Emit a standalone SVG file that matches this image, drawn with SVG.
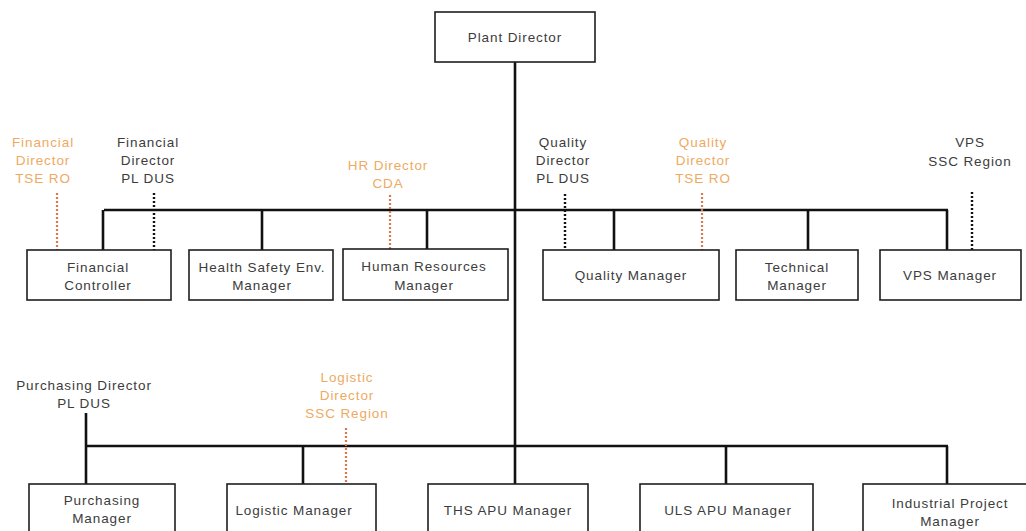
<svg xmlns="http://www.w3.org/2000/svg" width="1026" height="531" viewBox="0 0 1026 531">
  <style>
    .box { fill: #ffffff; stroke: #1e1e1e; stroke-width: 1.6; }
    .t { font-family: "Liberation Sans", Arial, sans-serif; font-size: 13.5px; letter-spacing: 0.9px; fill: #3c3c3c; text-anchor: middle; }
    .o { fill: #eeaa62; }
    .line { stroke: #111111; stroke-width: 2.6; fill: none; }
    .dotk { stroke: #111111; stroke-width: 2.4; stroke-dasharray: 2 2; fill: none; }
    .doto { stroke: #d9784c; stroke-width: 2.2; stroke-dasharray: 2 2; fill: none; }
  </style>
  <rect width="1026" height="531" fill="#ffffff"/>

  <!-- reporting lines -->
  <g id="connectors">
    <line class="line" x1="515" y1="62" x2="515" y2="484"/>
    <line class="line" x1="104" y1="210" x2="948" y2="210"/>
    <line class="line" x1="103" y1="210" x2="103" y2="250"/>
    <line class="line" x1="262" y1="210" x2="262" y2="250"/>
    <line class="line" x1="427" y1="210" x2="427" y2="250"/>
    <line class="line" x1="614" y1="210" x2="614" y2="250"/>
    <line class="line" x1="808" y1="210" x2="808" y2="250"/>
    <line class="line" x1="947" y1="210" x2="947" y2="250"/>
    <line class="line" x1="86" y1="446" x2="948" y2="446"/>
    <line class="line" x1="86" y1="413" x2="86" y2="484"/>
    <line class="line" x1="303" y1="446" x2="303" y2="484"/>
    <line class="line" x1="726" y1="446" x2="726" y2="484"/>
    <line class="line" x1="947" y1="446" x2="947" y2="484"/>
    <!-- dotted functional lines -->
    <line class="doto" x1="57" y1="193" x2="57" y2="250"/>
    <line class="dotk" x1="154" y1="193" x2="154" y2="250"/>
    <line class="doto" x1="390" y1="195" x2="390" y2="250"/>
    <line class="dotk" x1="565" y1="194" x2="565" y2="250"/>
    <line class="doto" x1="702" y1="193" x2="702" y2="250"/>
    <line class="dotk" x1="972" y1="192" x2="972" y2="250"/>
    <line class="doto" x1="346" y1="428" x2="346" y2="484"/>
  </g>

  <g id="plant-director">
    <rect class="box" x="435" y="12" width="160" height="50"/>
    <text class="t" x="515" y="42">Plant Director</text>
  </g>

  <!-- directors with functional lines -->
  <g id="fin-dir-tse">
    <text class="t o" x="43" y="147">Financial</text>
    <text class="t o" x="43" y="165">Director</text>
    <text class="t o" x="43" y="183">TSE RO</text>
  </g>
  <g id="fin-dir-pl">
    <text class="t" x="148" y="147">Financial</text>
    <text class="t" x="148" y="165">Director</text>
    <text class="t" x="148" y="183">PL DUS</text>
  </g>
  <g id="hr-dir">
    <text class="t o" x="388" y="170">HR Director</text>
    <text class="t o" x="388" y="188">CDA</text>
  </g>
  <g id="quality-dir-pl">
    <text class="t" x="563" y="147">Quality</text>
    <text class="t" x="563" y="165">Director</text>
    <text class="t" x="563" y="183">PL DUS</text>
  </g>
  <g id="quality-dir-tse">
    <text class="t o" x="703" y="147">Quality</text>
    <text class="t o" x="703" y="165">Director</text>
    <text class="t o" x="703" y="183">TSE RO</text>
  </g>
  <g id="vps-ssc">
    <text class="t" x="970" y="147">VPS</text>
    <text class="t" x="970" y="166">SSC Region</text>
  </g>

  <!-- first level managers -->
  <g id="financial-controller">
    <rect class="box" x="27" y="250" width="144" height="50"/>
    <text class="t" x="98" y="272">Financial</text>
    <text class="t" x="98" y="290">Controller</text>
  </g>
  <g id="hse-manager">
    <rect class="box" x="189" y="250" width="144" height="50"/>
    <text class="t" x="262" y="272">Health Safety Env.</text>
    <text class="t" x="262" y="290">Manager</text>
  </g>
  <g id="hr-manager">
    <rect class="box" x="343" y="249" width="165" height="51"/>
    <text class="t" x="424" y="271">Human Resources</text>
    <text class="t" x="424" y="290">Manager</text>
  </g>
  <g id="quality-manager">
    <rect class="box" x="543" y="250" width="176" height="50"/>
    <text class="t" x="631" y="280">Quality Manager</text>
  </g>
  <g id="technical-manager">
    <rect class="box" x="736" y="250" width="122" height="50"/>
    <text class="t" x="797" y="272">Technical</text>
    <text class="t" x="797" y="290">Manager</text>
  </g>
  <g id="vps-manager">
    <rect class="box" x="880" y="250" width="141" height="50"/>
    <text class="t" x="950" y="280">VPS Manager</text>
  </g>

  <!-- second level -->
  <g id="purchasing-dir">
    <text class="t" x="84" y="390">Purchasing Director</text>
    <text class="t" x="84" y="408">PL DUS</text>
  </g>
  <g id="logistic-dir">
    <text class="t o" x="347" y="382">Logistic</text>
    <text class="t o" x="347" y="400">Director</text>
    <text class="t o" x="347" y="418">SSC Region</text>
  </g>
  <g id="purchasing-manager">
    <rect class="box" x="29" y="484" width="146" height="60"/>
    <text class="t" x="102" y="505">Purchasing</text>
    <text class="t" x="102" y="523">Manager</text>
  </g>
  <g id="logistic-manager">
    <rect class="box" x="227" y="484" width="149" height="60"/>
    <text class="t" x="294" y="515">Logistic Manager</text>
  </g>
  <g id="ths-apu-manager">
    <rect class="box" x="428" y="484" width="160" height="60"/>
    <text class="t" x="508" y="515">THS APU Manager</text>
  </g>
  <g id="uls-apu-manager">
    <rect class="box" x="640" y="484" width="173" height="60"/>
    <text class="t" x="728" y="515">ULS APU Manager</text>
  </g>
  <g id="industrial-project-manager">
    <rect class="box" x="863" y="484" width="170" height="60"/>
    <text class="t" x="950" y="508">Industrial Project</text>
    <text class="t" x="950" y="526">Manager</text>
  </g>
</svg>
